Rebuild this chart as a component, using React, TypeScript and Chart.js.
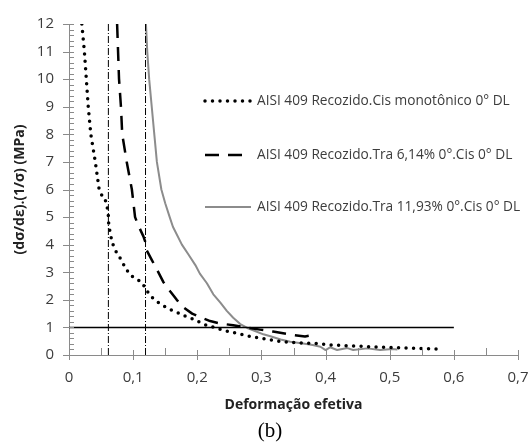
import React, { useEffect, useRef } from "react";
import { Chart, registerables } from "chart.js";

Chart.register(...registerables);

// ---- data ----
const S1_X = [0.020, 0.024, 0.027, 0.030, 0.034, 0.041, 0.047, 0.051, 0.055, 0.058, 0.061, 0.062, 0.067, 0.072, 0.080, 0.087, 0.095, 0.106, 0.115, 0.119, 0.124, 0.131, 0.141, 0.151, 0.162, 0.173, 0.184, 0.194, 0.200, 0.212, 0.223, 0.239, 0.251, 0.270, 0.287, 0.301, 0.314, 0.326, 0.350, 0.376, 0.389, 0.402, 0.415, 0.440, 0.470, 0.500, 0.530, 0.574];
const S1_Y = [12, 11, 10, 9, 8, 7, 6, 5.8, 5.75, 5.5, 5.2, 4.7, 4.1, 3.8, 3.5, 3.2, 2.9, 2.75, 2.6, 2.4, 2.25, 2.05, 1.87, 1.73, 1.6, 1.5, 1.38, 1.3, 1.23, 1.1, 1.02, 0.91, 0.84, 0.74, 0.65, 0.6, 0.55, 0.5, 0.45, 0.42, 0.41, 0.37, 0.36, 0.33, 0.3, 0.27, 0.25, 0.22];

const S2_X = [0.075, 0.078, 0.081, 0.083, 0.090, 0.098, 0.103, 0.108, 0.116, 0.119, 0.121, 0.129, 0.137, 0.147, 0.158, 0.168, 0.178, 0.192, 0.204, 0.220, 0.236, 0.256, 0.275, 0.298, 0.318, 0.345, 0.368, 0.375, 0.384];
const S2_Y = [12, 10, 9, 8, 7, 6, 5, 4.7, 4.3, 4.1, 3.8, 3.45, 3.1, 2.65, 2.3, 2.0, 1.73, 1.5, 1.38, 1.23, 1.14, 1.08, 1.0, 0.92, 0.85, 0.74, 0.67, 0.7, 0.75];

const S3_X = [0.120, 0.122, 0.125, 0.129, 0.133, 0.137, 0.144, 0.150, 0.157, 0.162, 0.176, 0.186, 0.197, 0.204, 0.215, 0.225, 0.236, 0.246, 0.256, 0.267, 0.278, 0.290, 0.303, 0.314, 0.330, 0.345, 0.365, 0.380, 0.392, 0.400, 0.407, 0.418, 0.434, 0.443, 0.465, 0.485, 0.504, 0.512];
const S3_Y = [12, 11, 10, 9, 8, 7, 6, 5.5, 5, 4.65, 4.0, 3.65, 3.26, 2.95, 2.6, 2.2, 1.9, 1.6, 1.35, 1.12, 0.98, 0.87, 0.75, 0.68, 0.56, 0.48, 0.42, 0.36, 0.3, 0.18, 0.28, 0.18, 0.25, 0.18, 0.24, 0.18, 0.22, 0.2];

const VLINES_X = [0.0614, 0.1193];
const HLINE_Y = 1;
const HLINE_X = [0, 0.6];
const Y_RANGE = [0, 12];
const X_RANGE = [0, 0.7];

const LEGEND_LABELS = [
  "AISI 409 Recozido.Cis monotônico 0° DL",
  "AISI 409 Recozido.Tra 6,14% 0°.Cis 0° DL",
  "AISI 409 Recozido.Tra 11,93% 0°.Cis 0° DL",
];
const X_TITLE = "Deformação efetiva";
const Y_TITLE = "(dσ/dε).(1/σ) (MPa)";
const CAPTION = "(b)";

const zip = (xs: number[], ys: number[]) => xs.map((x, i) => ({ x, y: ys[i] }));

const AXIS_GRAY = "#8a8a8a";
const TEXT = "#3c3c3c";

const SERIES_STYLES = [
  { borderColor: "#000", borderWidth: 3.5, borderDash: [0, 7.5], borderCapStyle: "round" },
  { borderColor: "#000", borderWidth: 2.5, borderDash: [14, 9], borderCapStyle: "butt" },
  { borderColor: "#8c8c8c", borderWidth: 2, borderDash: [], borderCapStyle: "butt" },
];

const extrasPlugin = {
  id: "extras",
  afterDraw(chart: any) {
    const ctx = chart.ctx;
    const xs = chart.scales.x;
    const ys = chart.scales.y;
    const area = chart.chartArea;
    ctx.save();
    ctx.strokeStyle = AXIS_GRAY;
    ctx.lineWidth = 1;
    ctx.setLineDash([]);
    // y ticks
    for (let i = 0; i <= 60; i++) {
      const v = i * 0.2;
      const py = Math.round(ys.getPixelForValue(v)) + 0.5;
      const major = i % 5 === 0;
      ctx.beginPath();
      ctx.moveTo(area.left - (major ? 6 : 0), py);
      ctx.lineTo(area.left + 5, py);
      ctx.stroke();
    }
    // x ticks
    for (let i = 0; i <= 14; i++) {
      const v = i * 0.05;
      const px = Math.round(xs.getPixelForValue(v)) + 0.5;
      const major = i % 2 === 0;
      ctx.beginPath();
      ctx.moveTo(px, area.bottom - (major ? 5 : 7));
      ctx.lineTo(px, area.bottom + (major ? 5 : 0));
      ctx.stroke();
    }
    // legend
    const legendY = [101, 155, 207];
    ctx.font = '13.7px "Open Sans"';
    ctx.textBaseline = "middle";
    ctx.textAlign = "left";
    for (let i = 0; i < 3; i++) {
      const st = SERIES_STYLES[i];
      ctx.strokeStyle = st.borderColor;
      ctx.lineWidth = st.borderWidth;
      ctx.lineCap = st.borderCapStyle as CanvasLineCap;
      ctx.setLineDash(st.borderDash);
      ctx.beginPath();
      ctx.moveTo(205, legendY[i]);
      ctx.lineTo(251, legendY[i]);
      ctx.stroke();
      ctx.setLineDash([]);
      ctx.fillStyle = TEXT;
      ctx.fillText(LEGEND_LABELS[i], 257, legendY[i]);
    }
    // caption
    ctx.font = '21px "Liberation Serif"';
    ctx.fillStyle = "#000";
    ctx.textAlign = "center";
    ctx.fillText(CAPTION, 270, 431);
    ctx.restore();
  },
};

export default function App() {
  const ref = useRef<HTMLCanvasElement>(null);
  useEffect(() => {
    if (!ref.current) return;
    const lineDs = (data: any[], color: string, width: number, dash: number[]) => ({
      data,
      showLine: true,
      borderColor: color,
      borderWidth: width,
      borderDash: dash,
      pointRadius: 0,
      fill: false,
      tension: 0,
    });
    const datasets: any[] = [
      ...VLINES_X.map((x) => lineDs([{ x, y: Y_RANGE[0] }, { x, y: Y_RANGE[1] }], "#000", 1, [7, 2, 1, 2])),
      lineDs(HLINE_X.map((x) => ({ x, y: HLINE_Y })), "#000", 1.5, []),
      ...[zip(S1_X, S1_Y), zip(S2_X, S2_Y), zip(S3_X, S3_Y)].map((d, i) => ({
        ...lineDs(d, SERIES_STYLES[i].borderColor, SERIES_STYLES[i].borderWidth, SERIES_STYLES[i].borderDash),
        borderCapStyle: SERIES_STYLES[i].borderCapStyle,
        borderJoinStyle: "round",
        label: LEGEND_LABELS[i],
      })),
    ];
    const chart = new Chart(ref.current, {
      type: "scatter",
      data: { datasets },
      options: {
        animation: false,
        responsive: false,
        layout: { padding: { left: 0, right: 11, top: 24, bottom: 0 } },
        plugins: { legend: { display: false }, tooltip: { enabled: false } },
        scales: {
          x: {
            type: "linear",
            min: X_RANGE[0],
            max: X_RANGE[1],
            afterFit: (s: any) => { s.height = 87; s.paddingLeft = 0; s.paddingRight = 0; },
            grid: { display: true, drawOnChartArea: false, drawTicks: false },
            border: { display: true, color: AXIS_GRAY, width: 1 },
            ticks: {
              stepSize: 0.1,
              padding: 14,
              color: TEXT,
              font: { family: '"Open Sans"', size: 15 },
              callback: (v: any) => (Number(v) === 0 ? "0" : Number(v).toFixed(1).replace(".", ",")),
            },
            title: {
              display: true,
              text: X_TITLE,
              color: "#222",
              font: { family: '"Open Sans"', size: 14, weight: "bold" },
              padding: { top: 6, bottom: 29 },
            },
          },
          y: {
            type: "linear",
            min: Y_RANGE[0],
            max: Y_RANGE[1],
            afterFit: (s: any) => { s.width = 69; s.paddingTop = 0; s.paddingBottom = 0; },
            grid: { display: true, drawOnChartArea: false, drawTicks: false },
            border: { display: true, color: AXIS_GRAY, width: 1 },
            ticks: {
              stepSize: 1,
              padding: 15,
              color: TEXT,
              font: { family: '"Open Sans"', size: 15 },
            },
            title: {
              display: true,
              text: Y_TITLE,
              color: "#222",
              font: { family: '"Open Sans"', size: 14, weight: "bold" },
              padding: { top: 12, bottom: 4 },
            },
          },
        },
      },
      plugins: [extrasPlugin],
    } as any);
    return () => chart.destroy();
  }, []);
  return (
    <div style={{ position: "fixed", left: 0, top: 0, width: 529, height: 442, background: "#fff" }}>
      <canvas ref={ref} width={529} height={442} style={{ width: 529, height: 442, display: "block" }} />
    </div>
  );
}
